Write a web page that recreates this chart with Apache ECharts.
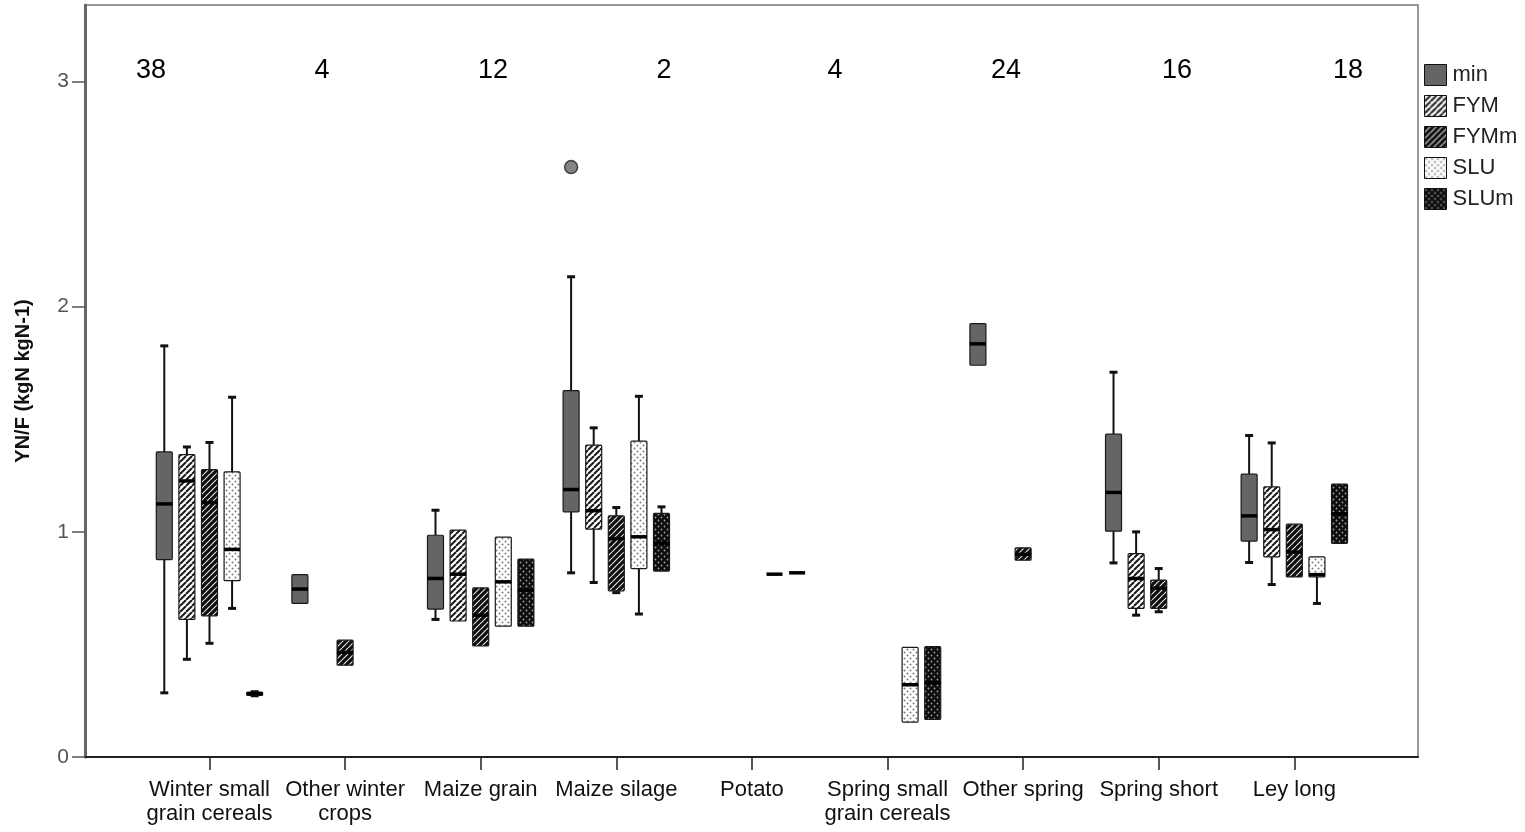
<!DOCTYPE html>
<html>
<head>
<meta charset="utf-8">
<script src="https://cdn.jsdelivr.net/npm/echarts@6.0.0/dist/echarts.min.js"></script>
<style>
  html, body { margin: 0; padding: 0; background: #fff; }
  #chart { width: 1525px; height: 832px; }
</style>
</head>
<body>
<div id="chart"></div>
<script>
// ---------------- DATA ----------------
const categories = [
  'Winter small\ngrain cereals', 'Other winter\ncrops', 'Maize grain', 'Maize silage',
  'Potato', 'Spring small\ngrain cereals', 'Other spring', 'Spring short', 'Ley long'
];
const groups = ['min', 'FYM', 'FYMm', 'SLU', 'SLUm'];
const yTicks = [0, 1, 2, 3];
const yTitle = 'YN/F (kgN kgN-1)';
const countLabels = ['38', '4', '12', '2', '4', '24', '16', '18'];

// each entry: [lower whisker, Q1, median, Q3, upper whisker] per category (null = none)
const minBox = [
  [0.285, 0.877, 1.124, 1.355, 1.826],
  [0.682, 0.682, 0.746, 0.810, 0.810],
  [0.611, 0.657, 0.793, 0.985, 1.096],
  [0.818, 1.089, 1.188, 1.627, 2.133],
  null,
  null,
  [1.740, 1.740, 1.835, 1.925, 1.925],
  [0.862, 1.003, 1.175, 1.434, 1.709],
  [0.864, 0.959, 1.071, 1.256, 1.428]
];
const fymBox = [
  [0.434, 0.611, 1.226, 1.343, 1.377],
  null,
  [0.604, 0.604, 0.812, 1.008, 1.008],
  [0.775, 1.012, 1.094, 1.385, 1.462],
  null,
  null,
  null,
  [0.630, 0.660, 0.793, 0.903, 1.000],
  [0.766, 0.889, 1.010, 1.200, 1.395]
];
const fymmBox = [
  [0.505, 0.627, 1.130, 1.276, 1.397],
  [0.408, 0.408, 0.465, 0.519, 0.519],
  [0.493, 0.493, 0.630, 0.751, 0.751],
  [0.730, 0.738, 0.970, 1.071, 1.108],
  null,
  null,
  [0.874, 0.874, 0.900, 0.929, 0.929],
  [0.645, 0.660, 0.750, 0.786, 0.837],
  [0.800, 0.800, 0.910, 1.034, 1.034]
];
const sluBox = [
  [0.660, 0.783, 0.922, 1.266, 1.598],
  null,
  [0.581, 0.581, 0.778, 0.977, 0.977],
  [0.635, 0.837, 0.978, 1.403, 1.602],
  [0.812, 0.812, 0.812, 0.812, 0.812],
  [0.155, 0.155, 0.321, 0.487, 0.487],
  null,
  null,
  [0.682, 0.800, 0.810, 0.889, 0.889]
];
const slumBox = [
  [0.272, 0.274, 0.281, 0.288, 0.290],
  null,
  [0.581, 0.581, 0.740, 0.879, 0.879],
  [0.826, 0.826, 0.950, 1.082, 1.111],
  [0.818, 0.818, 0.818, 0.818, 0.818],
  [0.167, 0.167, 0.330, 0.490, 0.490],
  null,
  null,
  [0.949, 0.949, 1.080, 1.212, 1.212]
];
// outliers: [category index, group index, value]
const outliers = [[3, 0, 2.62]];

// ---------------- STYLE ----------------
function hatch(bg, fg, lw, p) {
  const c = document.createElement('canvas');
  c.width = p; c.height = p;
  const g = c.getContext('2d');
  g.fillStyle = bg; g.fillRect(0, 0, p, p);
  g.strokeStyle = fg; g.lineWidth = lw;
  [-p, 0, p].forEach(o => { g.beginPath(); g.moveTo(o, p); g.lineTo(o + p, 0); g.stroke(); });
  return { image: c, repeat: 'repeat' };
}
function dots(bg, fg, r, p) {
  const c = document.createElement('canvas');
  c.width = p; c.height = p;
  const g = c.getContext('2d');
  g.fillStyle = bg; g.fillRect(0, 0, p, p);
  g.fillStyle = fg;
  [[p * 0.25, p * 0.25], [p * 0.75, p * 0.75]].forEach(([x, y]) => {
    g.beginPath(); g.arc(x, y, r, 0, Math.PI * 2); g.fill();
  });
  return { image: c, repeat: 'repeat' };
}
const fills = [
  '#656565',
  hatch('#ffffff', '#1a1a1a', 2.0, 6),
  hatch('#0d0d0d', '#e0e0e0', 1.2, 6),
  dots('#ffffff', '#7a7a7a', 1.0, 6),
  dots('#0d0d0d', '#a0a0a0', 0.9, 6)
];
const boxSets = [minBox, fymBox, fymmBox, sluBox, slumBox];
const SLOT = 1 / 6;      // slot spacing in category units
const BOX_W = 0.118;     // box width in category units
const CAP_PX = 8;
const FONT = "'Liberation Sans', Arial, sans-serif";

function renderBox(params, api) {
  const s = params.seriesIndex;
  const x = api.value(0) + (s - 2) * SLOT;
  const lo = api.value(1), q1 = api.value(2), med = api.value(3), q3 = api.value(4), hi = api.value(5);
  const pLo = api.coord([x, lo]), pQ1 = api.coord([x, q1]), pMed = api.coord([x, med]);
  const pQ3 = api.coord([x, q3]), pHi = api.coord([x, hi]);
  const bw = api.size([BOX_W, 0])[0];
  const cx = pMed[0];
  const children = [];
  const lineStyle = { stroke: '#111', lineWidth: 2 };
  if (hi > q3) {
    children.push({ type: 'line', shape: { x1: cx, y1: pQ3[1], x2: cx, y2: pHi[1] }, style: lineStyle });
    children.push({ type: 'line', shape: { x1: cx - CAP_PX / 2, y1: pHi[1], x2: cx + CAP_PX / 2, y2: pHi[1] }, style: { stroke: '#111', lineWidth: 3 } });
  }
  if (lo < q1) {
    children.push({ type: 'line', shape: { x1: cx, y1: pQ1[1], x2: cx, y2: pLo[1] }, style: lineStyle });
    children.push({ type: 'line', shape: { x1: cx - CAP_PX / 2, y1: pLo[1], x2: cx + CAP_PX / 2, y2: pLo[1] }, style: { stroke: '#111', lineWidth: 3 } });
  }
  if (q3 > q1) {
    children.push({
      type: 'rect',
      shape: { x: cx - bw / 2, y: pQ3[1], width: bw, height: pQ1[1] - pQ3[1], r: 1 },
      style: { fill: fills[s], stroke: '#1a1a1a', lineWidth: 1.2 }
    });
  }
  children.push({ type: 'line', shape: { x1: cx - bw / 2, y1: pMed[1], x2: cx + bw / 2, y2: pMed[1] }, style: { stroke: '#000', lineWidth: 3.5 } });
  return { type: 'group', children };
}

const boxSeries = groups.map((name, s) => ({
  name,
  type: 'custom',
  renderItem: renderBox,
  itemStyle: { color: fills[s], borderColor: '#111', borderWidth: 1 },
  encode: { x: 0, y: [1, 2, 3, 4, 5] },
  data: boxSets[s].map((b, i) => b ? [i].concat(b) : null).filter(d => d),
  z: 3
}));

const outlierSeries = {
  name: 'outliers',
  type: 'scatter',
  symbol: 'circle',
  symbolSize: 13,
  itemStyle: { color: '#656565', borderColor: '#222', borderWidth: 1.5 },
  data: outliers.map(([c, s, v]) => [c + (s - 2) * SLOT, v]),
  z: 4
};

const chart = echarts.init(document.getElementById('chart'), null, { renderer: 'canvas' });
chart.setOption({
  animation: false,
  backgroundColor: '#fff',
  grid: { left: 85, right: 107, top: 5, bottom: 75, show: true, borderColor: '#777', borderWidth: 1.5, backgroundColor: 'transparent' },
  xAxis: {
    type: 'value',
    min: -0.918, max: 8.912,
    splitLine: { show: false },
    axisLine: { show: true, onZero: false, lineStyle: { color: '#222', width: 2 } },
    axisTick: { show: true, length: 13, customValues: categories.map((c, i) => i), lineStyle: { color: '#222', width: 1.5 } },
    axisLabel: {
      customValues: categories.map((c, i) => i),
      formatter: v => categories[Math.round(v)],
      fontFamily: FONT, fontSize: 22, lineHeight: 24, color: '#111', margin: 21
    }
  },
  yAxis: {
    type: 'value',
    min: 0, max: 3.34,
    name: yTitle,
    nameLocation: 'middle',
    nameGap: 52,
    nameTextStyle: { fontFamily: FONT, fontWeight: 'bold', fontSize: 20, color: '#111' },
    splitLine: { show: false },
    axisLine: { show: true, onZero: false, lineStyle: { color: '#666', width: 3 } },
    axisTick: { show: true, length: 13, customValues: yTicks, lineStyle: { color: '#555', width: 1.5 } },
    axisLabel: { customValues: yTicks, fontFamily: FONT, fontSize: 21, color: '#555', margin: 16 }
  },
  legend: {
    orient: 'vertical',
    left: 1419, top: 59,
    itemWidth: 22, itemHeight: 21, itemGap: 9,
    icon: 'rect',
    textStyle: { fontFamily: FONT, fontSize: 22, color: '#222', padding: [0, 0, 0, 1] },
    data: groups.map((g, s) => ({ name: g, icon: 'rect', itemStyle: { color: fills[s], borderColor: '#111', borderWidth: 1 } }))
  },
  graphic: countLabels.map((t, i) => ({
    type: 'text',
    x: 151 + i * 171, y: 71,
    style: { text: t, font: '27px ' + FONT, fill: '#000', textAlign: 'center', textVerticalAlign: 'middle' },
    z: 10
  })),
  series: boxSeries.concat([outlierSeries])
});
</script>
</body>
</html>
